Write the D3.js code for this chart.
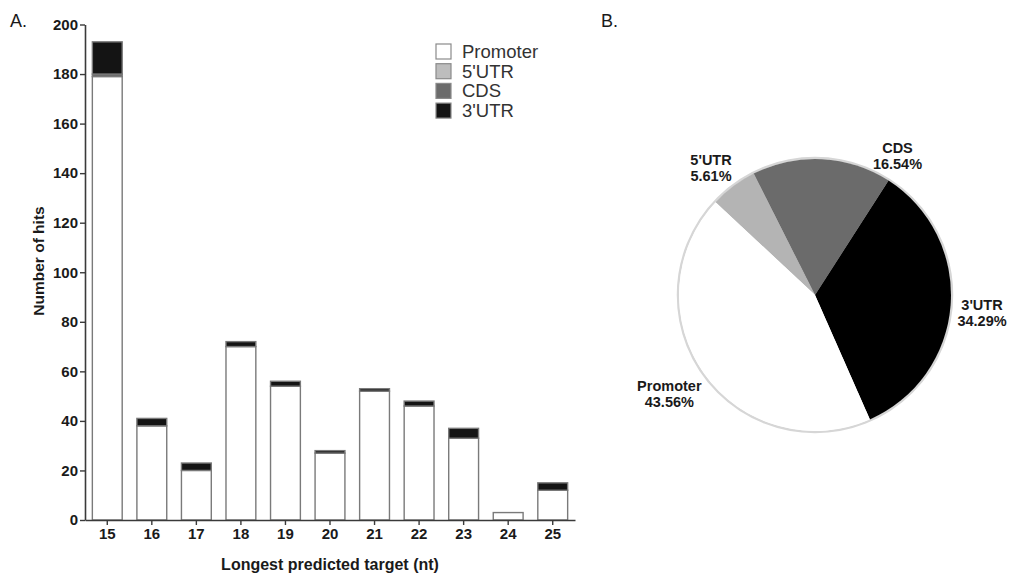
<!DOCTYPE html>
<html>
<head>
<meta charset="utf-8">
<script src="https://cdn.jsdelivr.net/npm/d3@7"></script>
<style>
  body { margin: 0; background: #fff; }
  svg { display: block; font-family: "Liberation Sans", Arial, sans-serif; }
</style>
</head>
<body>
<svg id="chart" width="1009" height="574"></svg>
<script>
// --- data ---
const lengths = ['15', '16', '17', '18', '19', '20', '21', '22', '23', '24', '25'];
const regions = ['Promoter', "5'UTR", 'CDS', "3'UTR"];
const promoterHits = [179, 38, 20, 70, 54, 27, 52, 46, 33, 3, 12];
const utr5Hits     = [0, 0, 0, 0, 0, 0, 0, 0, 0, 0, 0];
const cdsHits      = [1, 0, 0, 0, 0, 0, 0, 0, 0, 0, 0];
const utr3Hits     = [13, 3, 3, 2, 2, 1, 1, 2, 4, 0, 3];
const yTicks = [0, 20, 40, 60, 80, 100, 120, 140, 160, 180, 200];

const pieOrder = ["5'UTR", 'CDS', "3'UTR", 'Promoter'];
const piePercent = [5.61, 16.54, 34.29, 43.56];

// colours per region
const fills = { 'Promoter': '#ffffff', "5'UTR": '#bdbdbd', 'CDS': '#6b6b6b', "3'UTR": '#141414' };
const pieFills = { 'Promoter': '#ffffff', "5'UTR": '#b4b4b4', 'CDS': '#6b6b6b', "3'UTR": '#000000' };

const svg = d3.select('#chart');

// ---------- panel A: stacked bars ----------
const plotLeft = 85, plotRight = 575, plotTop = 24.5, plotBottom = 520;

const x = d3.scaleBand().domain(lengths).range([plotLeft, plotRight])
    .paddingInner(0.33).paddingOuter(0.165);
const y = d3.scaleLinear().domain([0, 200]).range([plotBottom, plotTop]);

const rows = lengths.map((len, i) => ({
  len: len,
  'Promoter': promoterHits[i],
  "5'UTR": utr5Hits[i],
  'CDS': cdsHits[i],
  "3'UTR": utr3Hits[i]
}));

const series = d3.stack().keys(regions)(rows);

svg.append('g').selectAll('g')
  .data(series)
  .join('g')
    .attr('fill', d => fills[d.key])
  .selectAll('rect')
  .data(d => d.filter(s => s[1] > s[0]))
  .join('rect')
    .attr('x', d => x(d.data.len))
    .attr('width', x.bandwidth())
    .attr('y', d => y(d[1]))
    .attr('height', d => y(d[0]) - y(d[1]))
    .attr('stroke', '#7a7a7a')
    .attr('stroke-width', 1.4);

// axes
const yAxis = svg.append('g')
  .attr('transform', `translate(${plotLeft},0)`)
  .call(d3.axisLeft(y).tickValues(yTicks).tickSize(5).tickPadding(2).tickSizeOuter(0));
const xAxis = svg.append('g')
  .attr('transform', `translate(0,${plotBottom})`)
  .call(d3.axisBottom(x).tickSize(5).tickPadding(3).tickSizeOuter(0));

[yAxis, xAxis].forEach(ax => {
  ax.select('.domain').attr('stroke', '#3a3a3a').attr('stroke-width', 1.6);
  ax.selectAll('.tick line').attr('stroke', '#3a3a3a').attr('stroke-width', 1.4);
  ax.selectAll('.tick text')
    .attr('fill', '#1a1a1a')
    .style('font-family', '"Liberation Sans", Arial, sans-serif')
    .style('font-size', '15px')
    .style('font-weight', 'bold');
});

svg.append('text')
  .attr('transform', 'translate(44,261) rotate(-90)')
  .attr('text-anchor', 'middle')
  .attr('fill', '#1a1a1a')
  .style('font-size', '15.5px').style('font-weight', 'bold')
  .text('Number of hits');

svg.append('text')
  .attr('x', 330)
  .attr('y', 570)
  .attr('text-anchor', 'middle')
  .attr('fill', '#1a1a1a')
  .style('font-size', '16px').style('font-weight', 'bold')
  .text('Longest predicted target (nt)');

svg.append('text').attr('x', 10).attr('y', 27)
  .style('font-size', '18px').attr('fill', '#1a1a1a').text('A.');

// legend
const legend = svg.append('g').attr('transform', 'translate(436,44)');
const legendRow = legend.selectAll('g')
  .data(regions)
  .join('g')
    .attr('transform', (d, i) => `translate(0,${i * 19.7})`);
legendRow.append('rect')
  .attr('width', 15).attr('height', 15)
  .attr('fill', d => fills[d])
  .attr('stroke', '#8a8a8a').attr('stroke-width', 1.2);
legendRow.append('text')
  .attr('x', 26).attr('y', 14)
  .attr('fill', '#333')
  .style('font-size', '18.5px')
  .text(d => d);

// ---------- panel B: pie ----------
svg.append('text').attr('x', 601).attr('y', 27)
  .style('font-size', '18px').attr('fill', '#1a1a1a').text('B.');

const cx = 815, cy = 295, radius = 136;
const pieData = pieOrder.map((k, i) => ({ key: k, value: piePercent[i] }));
const pie = d3.pie().sort(null).value(d => d.value)
  .startAngle(-47 * Math.PI / 180).endAngle(313 * Math.PI / 180);
const arc = d3.arc().innerRadius(0).outerRadius(radius);
const labelArc = d3.arc().innerRadius(164).outerRadius(164);

const pieG = svg.append('g').attr('transform', `translate(${cx},${cy})`);
const arcs = pie(pieData);

pieG.append('circle').attr('r', radius + 1)
  .attr('fill', 'none').attr('stroke', '#d6d6d6').attr('stroke-width', 2.5);

pieG.selectAll('path')
  .data(arcs)
  .join('path')
    .attr('d', arc)
    .attr('fill', d => pieFills[d.data.key]);

// label nudges away from the arc centroid (first line baseline)
const labelNudge = { "5'UTR": [-5.5, 1], 'CDS': [74, 22], "3'UTR": [3.5, 2], 'Promoter': [-12, 1] };

const lbl = pieG.selectAll('text.plabel')
  .data(arcs)
  .join('text')
    .attr('class', 'plabel')
    .attr('text-anchor', 'middle')
    .attr('fill', '#1a1a1a')
    .style('font-size', '14.5px').style('font-weight', 'bold')
    .attr('transform', d => {
      const c = labelArc.centroid(d);
      const n = labelNudge[d.data.key];
      return `translate(${c[0] + n[0]},${c[1] + n[1]})`;
    });
lbl.append('tspan').attr('x', 0).attr('dy', 0).text(d => d.data.key);
lbl.append('tspan').attr('x', 0).attr('dy', 16).text(d => d.data.value.toFixed(2) + '%');
</script>
</body>
</html>
